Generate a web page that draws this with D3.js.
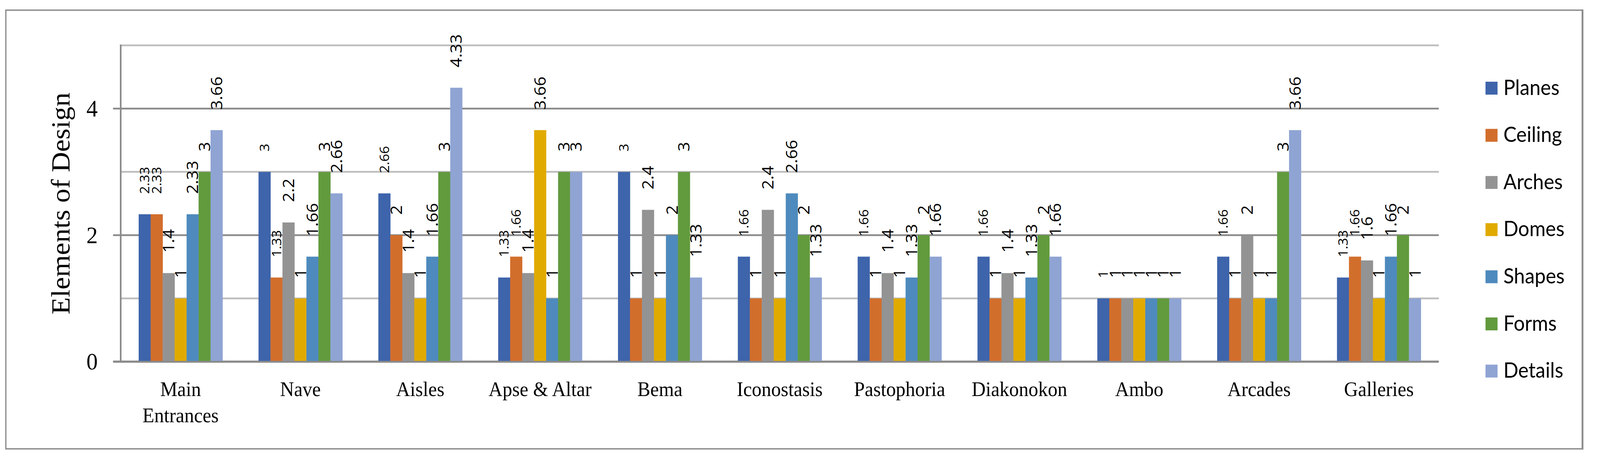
<!DOCTYPE html>
<html>
<head>
<meta charset="utf-8">
<script src="https://cdn.jsdelivr.net/npm/d3@7"></script>
<style>
  html, body { margin: 0; padding: 0; background: #fff; overflow: hidden; }
  svg { display: block; width: 100vw; height: 100vh; }
</style>
</head>
<body>
<script>

// data

const categories = ["Main Entrances", "Nave", "Aisles", "Apse & Altar", "Bema", "Iconostasis",
  "Pastophoria", "Diakonokon", "Ambo", "Arcades", "Galleries"];

const seriesNames = ["Planes", "Ceiling", "Arches", "Domes", "Shapes", "Forms", "Details"];

const planes  = [2.33, 3,    2.66, 1.33, 3,    1.66, 1.66, 1.66, 1, 1.66, 1.33];
const ceiling = [2.33, 1.33, 2,    1.66, 1,    1,    1,    1,    1, 1,    1.66];
const arches  = [1.4,  2.2,  1.4,  1.4,  2.4,  2.4,  1.4,  1.4,  1, 2,    1.6];
const domes   = [1,    1,    1,    3.66, 1,    1,    1,    1,    1, 1,    1];
const shapes  = [2.33, 1.66, 1.66, 1,    2,    2.66, 1.33, 1.33, 1, 1,    1.66];
const forms   = [3,    3,    3,    3,    3,    2,    2,    2,    1, 3,    2];
const details = [3.66, 2.66, 4.33, 3,    1.33, 1.33, 1.66, 1.66, 1, 3.66, 1];

const yTicks = [0, 2, 4];
const yMinorTicks = [1, 3, 5];

const colors = ["#3e64ab", "#d26e2c", "#939393", "#e1aa00", "#4e8abd", "#629a3e", "#8fa4d3"];

// layout

const width = 4388, height = 1174;
const plot = { left: 331, right: 3946, top: 116, bottom: 925 };

const table = [planes, ceiling, arches, domes, shapes, forms, details];

// viewBox so the whole chart fits the window whatever its css size
const svg = d3.select("body").append("svg")
  .attr("viewBox", [0, 0, width, height])
  .attr("preserveAspectRatio", "none");

// outer frame
svg.append("rect")
  .attr("x", 16).attr("y", 26)
  .attr("width", 4324).attr("height", 1122)
  .attr("fill", "#fff")
  .attr("stroke", "#8c8c8c")
  .attr("stroke-width", 3.5);
svg.append("line")
  .attr("x1", 4340).attr("x2", 4340).attr("y1", 24).attr("y2", 1150)
  .attr("stroke", "#8c8c8c").attr("stroke-width", 5);

const x0 = d3.scaleBand()
  .domain(categories)
  .range([plot.left, plot.right])
  .paddingInner(0.3)
  .paddingOuter(0.15);

const x1 = d3.scaleBand()
  .domain(seriesNames)
  .range([0, x0.bandwidth()]);

const y = d3.scaleLinear()
  .domain([0, 5])
  .range([plot.bottom, plot.top]);

// gridlines
svg.append("g").selectAll("line")
  .data(yMinorTicks)
  .join("line")
  .attr("x1", plot.left).attr("x2", plot.right)
  .attr("y1", d => y(d)).attr("y2", d => y(d))
  .attr("stroke", "#bdbdbd").attr("stroke-width", 4.5);

svg.append("g").selectAll("line")
  .data(yTicks)
  .join("line")
  .attr("x1", plot.left - 21).attr("x2", plot.right)
  .attr("y1", d => y(d)).attr("y2", d => y(d))
  .attr("stroke", "#8a8a8a").attr("stroke-width", d => d == 0 ? 5.5 : 4.5);

// y axis line
svg.append("line")
  .attr("x1", plot.left).attr("x2", plot.left)
  .attr("y1", plot.top - 2).attr("y2", plot.bottom)
  .attr("stroke", "#8a8a8a").attr("stroke-width", 4.5);

// tick labels
svg.append("g").selectAll("text")
  .data(yTicks)
  .join("text")
  .attr("x", 268)
  .attr("y", d => y(d))
  .attr("dy", "0.33em")
  .attr("text-anchor", "end")
  .attr("font-family", "'Liberation Serif', serif")
  .attr("font-size", 62)
  .text(d => d);

// y title
svg.append("text")
  .attr("transform", `translate(191,${(plot.top + plot.bottom) / 2}) rotate(-90)`)
  .attr("text-anchor", "middle")
  .attr("font-family", "'Liberation Serif', serif")
  .attr("font-size", 72)
  .text("Elements of Design");

// bars
const groups = svg.append("g").selectAll("g")
  .data(categories)
  .join("g")
  .attr("transform", d => `translate(${x0(d)},0)`);

const cells = groups.selectAll("g")
  .data((c, ci) => seriesNames.map((s, si) => ({ s, si, v: table[si][ci] })))
  .join("g");

cells.append("rect")
  .attr("x", d => x1(d.s))
  .attr("width", x1.bandwidth() + 0.5)
  .attr("y", d => y(d.v))
  .attr("height", d => y(0) - y(d.v) - 2)
  .attr("fill", d => colors[d.si]);

// value labels, rotated
cells.append("text")
  .attr("transform", d => `translate(${x1(d.s) + x1.bandwidth() / 2},${y(d.v) - 52}) rotate(-90)`)
  .attr("dy", "0.36em")
  .attr("text-anchor", "start")
  .attr("font-family", "'Open Sans', sans-serif")
  .attr("font-size", d => (d.si == 0 || (d.si == 1 && d.v % 1 != 0)) ? 35 : 43)
  .text(d => d.v);

// category labels
const catLabels = svg.append("g").selectAll("text")
  .data(categories)
  .join("text")
  .attr("x", d => x0(d) + x0.bandwidth() / 2)
  .attr("y", 1013)
  .attr("text-anchor", "middle")
  .attr("font-family", "'Liberation Serif', serif")
  .attr("font-size", 53);

catLabels.each(function(d) {
  const words = d == "Main Entrances" ? ["Main", "Entrances"] : [d];
  d3.select(this).selectAll("tspan")
    .data(words)
    .join("tspan")
    .attr("x", x0(d) + x0.bandwidth() / 2)
    .attr("dy", (w, i) => i == 0 ? 0 : 67)
    .text(w => w);
});

// legend
const legend = svg.append("g").selectAll("g")
  .data(seriesNames)
  .join("g")
  .attr("transform", (d, i) => `translate(4074,${225.5 + i * 120.6})`);

legend.append("rect")
  .attr("x", 0).attr("y", -16.5)
  .attr("width", 33).attr("height", 33)
  .attr("fill", (d, i) => colors[i]);

legend.append("text")
  .attr("x", 49)
  .attr("y", 17)
  .attr("font-family", "Lato, sans-serif")
  .attr("font-size", 54)
  .text(d => d);

</script>
</body>
</html>
